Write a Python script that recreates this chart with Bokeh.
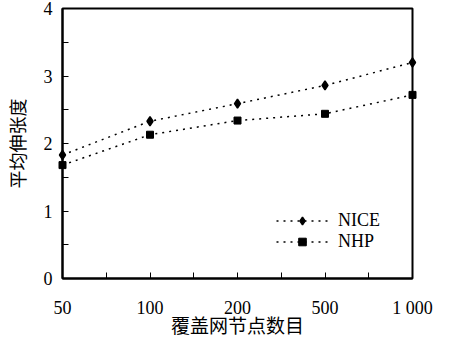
from bokeh.plotting import figure
from bokeh.models import FixedTicker, Range1d, Legend, LegendItem
from bokeh.embed import file_html
from bokeh.resources import INLINE

categories = ["50", "100", "200", "500", "1 000"]
nice = [1.83, 2.33, 2.59, 2.86, 3.20]
nhp = [1.68, 2.13, 2.34, 2.44, 2.72]
y_ticks = [0, 1, 2, 3, 4]

xs = list(range(len(categories)))

p = figure(width=433, height=340, output_backend="svg", toolbar_location=None,
           x_range=Range1d(0, len(categories) - 1), y_range=Range1d(0, 4),
           min_border_left=58, min_border_right=21, min_border_top=8, min_border_bottom=62)
p.background_fill_color = "white"
p.border_fill_color = "white"
p.outline_line_color = "black"
p.outline_line_width = 2
p.grid.visible = False

serif = "Liberation Serif"
cjk = "Noto Sans CJK SC"

p.xaxis.ticker = FixedTicker(ticks=xs, minor_ticks=[i + 0.5 for i in xs[:-1]])
p.xaxis.major_label_overrides = {i: c for i, c in zip(xs, categories)}
p.yaxis.ticker = FixedTicker(ticks=y_ticks, minor_ticks=[t + 0.5 for t in y_ticks[:-1]])

for ax in (p.xaxis, p.yaxis):
    ax.axis_line_width = 2
    ax.axis_line_color = "black"
    ax.major_tick_in = 6
    ax.major_tick_out = 0
    ax.minor_tick_in = 6
    ax.minor_tick_out = 0
    ax.major_tick_line_width = 1
    ax.minor_tick_line_width = 1
    ax.major_label_text_font = serif
    ax.major_label_text_font_size = "18px"
    ax.major_label_text_color = "black"
    ax.axis_label_text_font = cjk
    ax.axis_label_text_font_style = "normal"
    ax.axis_label_text_color = "black"

p.xaxis.axis_label = "覆盖网节点数目"
p.xaxis.axis_label_text_font_size = "19px"
p.xaxis.major_label_standoff = 19
p.xaxis.axis_label_standoff = -10
p.yaxis.axis_label = "平均伸张度"
p.yaxis.axis_label_text_font_size = "18px"
p.yaxis.major_label_standoff = 10
p.yaxis.axis_label_standoff = 11

l1 = p.line(xs, nice, line_color="black", line_width=1.5, line_dash="2 5")
m1 = p.scatter(xs, nice, marker="diamond", size=9, line_width=1.5,
               fill_color="black", line_color="black", level="overlay")
l2 = p.line(xs, nhp, line_color="black", line_width=1.5, line_dash="2 5")
m2 = p.scatter(xs, nhp, marker="square", size=7, fill_color="black",
               line_color="black", level="overlay")

legend = Legend(items=[LegendItem(label="NICE", renderers=[l1, m1]),
                       LegendItem(label="NHP", renderers=[l2, m2])],
                location=(214, 26), orientation="vertical")
legend.border_line_color = None
legend.background_fill_alpha = 0
legend.margin = 0
legend.padding = 0
legend.spacing = -1
legend.glyph_width = 52
legend.glyph_height = 19
legend.label_height = 19
legend.label_standoff = 10
legend.label_text_font = serif
legend.label_text_font_size = "18px"
legend.label_text_color = "black"
p.add_layout(legend, "center")

open("out.html", "w").write(file_html(p, INLINE))
